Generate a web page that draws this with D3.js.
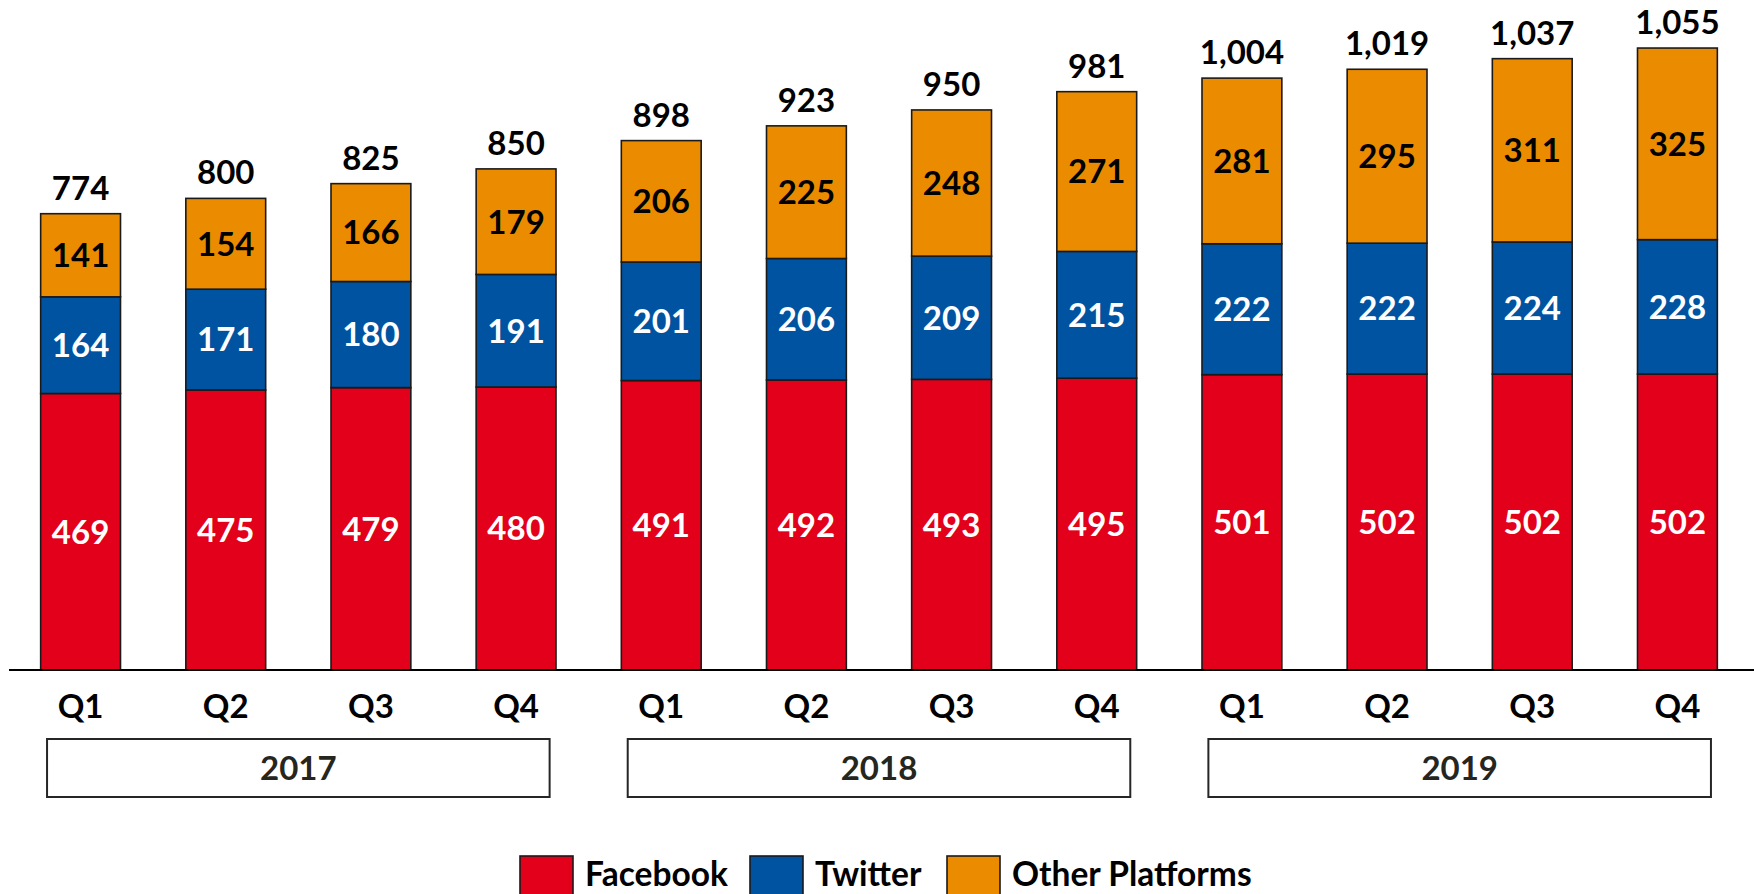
<!DOCTYPE html>
<html>
<head>
<meta charset="utf-8">
<script src="https://cdn.jsdelivr.net/npm/d3@7"></script>
<style>
  html, body { margin: 0; padding: 0; background: #ffffff; }
  svg { display: block; }
  text { font-family: Lato, "Open Sans", sans-serif; font-weight: 700; }
</style>
</head>
<body>
<svg id="chart" width="1754" height="894"></svg>
<script>
// ---- data ----
const years = ["2017", "2018", "2019"];
const quarters = ["Q1", "Q2", "Q3", "Q4"];
const categories = ["2017-Q1","2017-Q2","2017-Q3","2017-Q4","2018-Q1","2018-Q2","2018-Q3","2018-Q4","2019-Q1","2019-Q2","2019-Q3","2019-Q4"];
const facebook = [469, 475, 479, 480, 491, 492, 493, 495, 501, 502, 502, 502];
const twitter  = [164, 171, 180, 191, 201, 206, 209, 215, 222, 222, 224, 228];
const other    = [141, 154, 166, 179, 206, 225, 248, 271, 281, 295, 311, 325];
const seriesNames = ["Facebook", "Twitter", "Other Platforms"];
const seriesColors = ["#E3001B", "#0053A1", "#EB8C00"];
const labelColors = ["#ffffff", "#ffffff", "#000000"];

(function () {
// ---- build table ----
const table = categories.map((c, i) => ({
  cat: c, year: c.split("-")[0], q: c.split("-")[1],
  "Facebook": facebook[i], "Twitter": twitter[i], "Other Platforms": other[i]
}));
const stack = d3.stack().keys(seriesNames)(table);

const svg = d3.select("#chart");
const baseY = 670;

const x = d3.scaleBand().domain(categories).range([8, 1750]).paddingInner(0.45).paddingOuter(0.225);
const y = d3.scaleLinear().domain([0, 1136.5]).range([baseY, 0]);
const color = d3.scaleOrdinal().domain(seriesNames).range(seriesColors);
const fmt = d3.format(",");
const fs = 33;

// bars
const layers = svg.append("g").selectAll("g").data(stack).join("g")
  .attr("fill", d => color(d.key));
layers.selectAll("rect").data(d => d).join("rect")
  .attr("x", d => x(d.data.cat))
  .attr("width", x.bandwidth())
  .attr("y", d => y(d[1]))
  .attr("height", d => y(d[0]) - y(d[1]))
  .attr("stroke", "#1a1a1a")
  .attr("stroke-width", 1.6);

// segment labels
stack.forEach((layer, li) => {
  svg.append("g").selectAll("text").data(layer).join("text")
    .attr("x", d => x(d.data.cat) + x.bandwidth() / 2)
    .attr("y", d => (y(d[0]) + y(d[1])) / 2 + fs * 0.36)
    .attr("text-anchor", "middle")
    .attr("font-size", fs)
    .attr("fill", labelColors[li])
    .text(d => d[1] - d[0]);
});

// totals
const topLayer = stack[stack.length - 1];
svg.append("g").selectAll("text").data(topLayer).join("text")
  .attr("x", d => x(d.data.cat) + x.bandwidth() / 2)
  .attr("y", d => y(d[1]) - 14)
  .attr("text-anchor", "middle")
  .attr("font-size", fs)
  .attr("fill", "#000")
  .text(d => fmt(d[1]));

// baseline axis
svg.append("line")
  .attr("x1", 9).attr("x2", 1754)
  .attr("y1", baseY).attr("y2", baseY)
  .attr("stroke", "#000").attr("stroke-width", 2.2);

// quarter labels
svg.append("g").selectAll("text").data(table).join("text")
  .attr("x", d => x(d.cat) + x.bandwidth() / 2)
  .attr("y", 718)
  .attr("text-anchor", "middle")
  .attr("font-size", fs)
  .attr("fill", "#000")
  .text(d => d.q);

// year boxes
const step = x.step();
years.forEach(yr => {
  const first = x(yr + "-" + quarters[0]) + x.bandwidth() / 2;
  const last = x(yr + "-" + quarters[quarters.length - 1]) + x.bandwidth() / 2;
  const x0 = first - 0.231 * step, x1 = last + 0.231 * step;
  svg.append("rect")
    .attr("x", x0).attr("y", 739)
    .attr("width", x1 - x0).attr("height", 58)
    .attr("fill", "#fff").attr("stroke", "#262626").attr("stroke-width", 2);
  svg.append("text")
    .attr("x", (x0 + x1) / 2).attr("y", 768 + fs * 0.36)
    .attr("text-anchor", "middle")
    .attr("font-size", fs)
    .attr("fill", "#262620")
    .text(yr);
});

// legend
const legendX = [520, 750, 947];
const lg = svg.append("g");
seriesNames.forEach((s, i) => {
  lg.append("rect")
    .attr("x", legendX[i]).attr("y", 856)
    .attr("width", 53).attr("height", 53)
    .attr("fill", color(s)).attr("stroke", "#1a1a1a").attr("stroke-width", 1.6);
  lg.append("text")
    .attr("x", legendX[i] + 65).attr("y", 886)
    .attr("font-size", 33.5)
    .attr("fill", "#000")
    .text(s);
});
})();
</script>
</body>
</html>
